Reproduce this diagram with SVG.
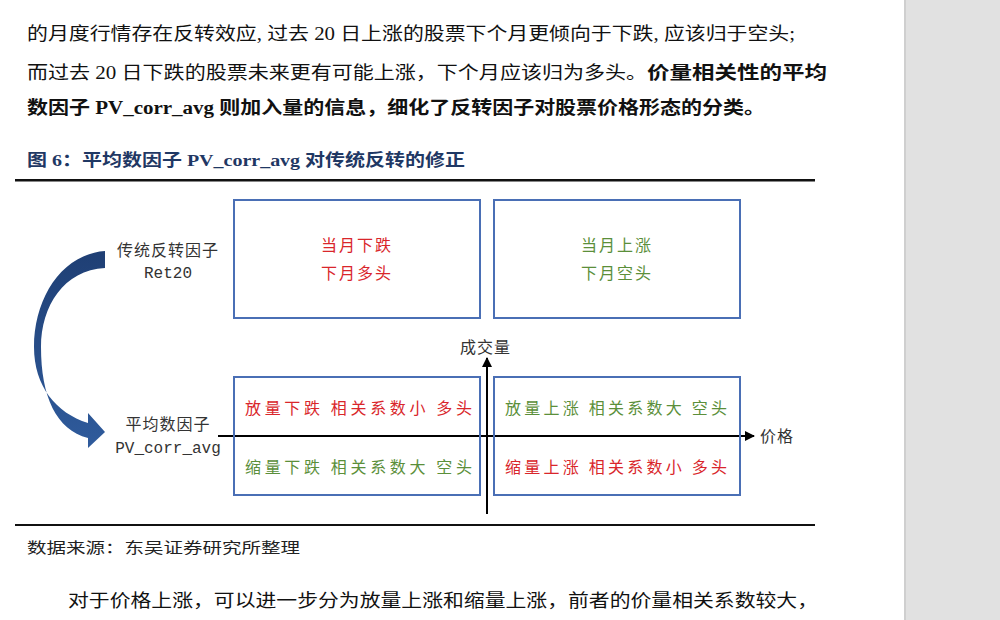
<svg xmlns="http://www.w3.org/2000/svg" width="1000" height="620" viewBox="0 0 1000 620">
<defs>
<style>
.body{font-family:"Liberation Serif","Noto Sans CJK SC",serif;font-size:18px;fill:#111}
.bold{font-weight:bold}
.cap{font-family:"Liberation Serif","Noto Sans CJK SC",serif;font-size:17px;font-weight:bold;fill:#1f3864}
.lbl{font-family:"Noto Sans CJK SC",sans-serif;font-size:16px;fill:#333}
.mono{font-family:"Liberation Mono","DejaVu Sans Mono",monospace;font-size:16px;fill:#333}
.red{font-family:"Noto Sans CJK SC",sans-serif;font-size:16px;fill:#d9262b}
.green{font-family:"Noto Sans CJK SC",sans-serif;font-size:16px;fill:#5b8f3a}
.box{fill:#fff;stroke:#4a6fb5;stroke-width:2}
.axis{stroke:#000;stroke-width:2;fill:none}
.src{font-family:"Noto Sans CJK SC",sans-serif;font-size:15px;fill:#222}
</style>
<marker id="ah" viewBox="0 0 10 10" refX="9" refY="5" markerWidth="5" markerHeight="5" orient="auto" markerUnits="strokeWidth">
<path d="M0,0 L10,5 L0,10 Z" fill="#000"/>
</marker>
<linearGradient id="g" x1="0" y1="0" x2="0" y2="1">
<stop offset="0" stop-color="#1f3f74"/>
<stop offset="1" stop-color="#2f5b9c"/>
</linearGradient>
</defs>
<rect x="0" y="0" width="1000" height="620" fill="#fff"/>
<rect x="905" y="0" width="95" height="620" fill="#e1e1e1"/>
<rect x="904" y="0" width="2" height="620" fill="#cfcfcf"/>

<g id="paragraph">
<text class="body" x="27" y="40" textLength="768" lengthAdjust="spacingAndGlyphs">的月度行情存在反转效应, 过去 20 日上涨的股票下个月更倾向于下跌, 应该归于空头;</text>
<text class="body" x="27" y="79">
<tspan textLength="620" lengthAdjust="spacingAndGlyphs">而过去 20 日下跌的股票未来更有可能上涨，下个月应该归为多头。</tspan><tspan class="bold" textLength="180" lengthAdjust="spacingAndGlyphs">价量相关性的平均</tspan></text>
<text class="body bold" x="27" y="114" textLength="738" lengthAdjust="spacingAndGlyphs">数因子 PV_corr_avg 则加入量的信息，细化了反转因子对股票价格形态的分类。</text>
</g>

<g id="caption">
<text class="cap" x="27" y="166" textLength="438" lengthAdjust="spacingAndGlyphs">图 6：平均数因子 PV_corr_avg 对传统反转的修正</text>
<rect x="15" y="179" width="800" height="2.5" fill="#111"/>
</g>

<g id="connectors">
<path d="M105,251 C62,254 34,298 34,347 C34,386 56,413 88,423 L88,413 L105,432 L88,448 L88,438 C56,430 41,396 41,347 C41,306 64,270 105,268 Z" fill="url(#g)"/>
<line class="axis" x1="218" y1="436" x2="754" y2="436" marker-end="url(#ah)"/>
<line class="axis" x1="487" y1="514" x2="487" y2="358" marker-end="url(#ah)"/>
</g>

<g id="factor-ret20">
<text class="lbl" x="168" y="256" text-anchor="middle" letter-spacing="1">传统反转因子</text>
<text class="mono" x="168" y="278" text-anchor="middle">Ret20</text>
</g>

<g id="factor-pv">
<text class="lbl" x="168" y="430" text-anchor="middle" letter-spacing="1">平均数因子</text>
<text class="mono" x="168" y="453" text-anchor="middle">PV_corr_avg</text>
</g>

<g id="box-down">
<rect class="box" x="234" y="200" width="246" height="118"/>
<text class="red" x="357" y="251" text-anchor="middle" letter-spacing="2">当月下跌</text>
<text class="red" x="357" y="279" text-anchor="middle" letter-spacing="2">下月多头</text>
</g>

<g id="box-up">
<rect class="box" x="494" y="200" width="246" height="118"/>
<text class="green" x="617" y="251" text-anchor="middle" letter-spacing="2">当月上涨</text>
<text class="green" x="617" y="279" text-anchor="middle" letter-spacing="2">下月空头</text>
</g>

<g id="box-pv-down">
<rect class="box" x="234" y="377" width="246" height="118" fill-opacity="0"/>
<text class="red" x="245" y="414" textLength="227" lengthAdjust="spacing">放量下跌 相关系数小  多头</text>
<text class="green" x="245" y="473" textLength="227" lengthAdjust="spacing">缩量下跌 相关系数大  空头</text>
</g>

<g id="box-pv-up">
<rect class="box" x="494" y="377" width="246" height="118" fill-opacity="0"/>
<text class="green" x="505" y="414" textLength="222" lengthAdjust="spacing">放量上涨 相关系数大  空头</text>
<text class="red" x="505" y="473" textLength="222" lengthAdjust="spacing">缩量上涨 相关系数小  多头</text>
</g>

<g id="axis-labels">
<text class="lbl" x="460" y="353" letter-spacing="1">成交量</text>
<text class="lbl" x="760" y="442" letter-spacing="1">价格</text>
</g>

<g id="footer">
<rect x="15" y="524" width="800" height="2" fill="#111"/>
<text class="src" x="27" y="553" textLength="273" lengthAdjust="spacingAndGlyphs">数据来源：东吴证券研究所整理</text>
<text class="body" x="68" y="607" textLength="750" lengthAdjust="spacingAndGlyphs">对于价格上涨，可以进一步分为放量上涨和缩量上涨，前者的价量相关系数较大，</text>
</g>
</svg>
